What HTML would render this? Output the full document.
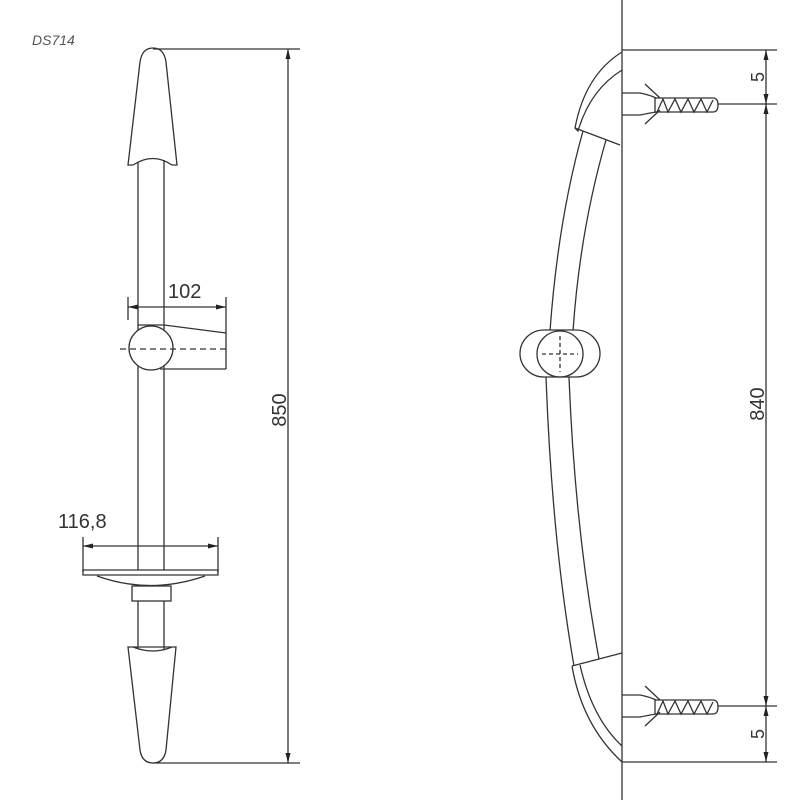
<!DOCTYPE html>
<html><head><meta charset="utf-8"><style>html,body{margin:0;padding:0;background:#fff}</style></head>
<body>
<svg width="800" height="800" xmlns="http://www.w3.org/2000/svg" font-family="Liberation Sans, sans-serif">
<defs>
<marker id="a" markerWidth="10" markerHeight="8" refX="10" refY="4" orient="auto-start-reverse" markerUnits="userSpaceOnUse"><path d="M0,1.5 L10,4 L0,6.5 Z" fill="#222"/></marker>
</defs>
<text x="32" y="45" font-size="14" font-style="italic" fill="#555">DS714</text>
<g fill="none" stroke="#333" stroke-width="1.3">
<!-- left view top cap -->
<path d="M128,165 L140,62 Q142,48 153,48 Q164,48 166,62 L177,165 L172,165 Q153,152 133,165 Z" fill="#fff"/>
<line x1="138" y1="162" x2="138" y2="570"/><line x1="164" y1="160" x2="164" y2="570"/>
<line x1="153" y1="49" x2="300" y2="49"/>
<line x1="288" y1="49" x2="288" y2="763" marker-start="url(#a)" marker-end="url(#a)"/>
<line x1="153" y1="763" x2="300" y2="763"/>
<!-- 102 dim -->
<line x1="128" y1="297" x2="128" y2="320"/><line x1="226" y1="297" x2="226" y2="369"/>
<line x1="128" y1="307" x2="226" y2="307" marker-start="url(#a)" marker-end="url(#a)"/>
<path d="M138,325 L164,325 L226,333 M160,369 L226,369"/>
<circle cx="151" cy="348" r="22" fill="#fff"/>
<line x1="120" y1="349" x2="226" y2="349" stroke-dasharray="6,4"/>
<!-- 116,8 dim -->
<line x1="83" y1="537" x2="83" y2="572"/><line x1="218" y1="537" x2="218" y2="572"/>
<line x1="83" y1="546" x2="218" y2="546" marker-start="url(#a)" marker-end="url(#a)"/>
<path d="M83,570 L218,570 L218,575 L83,575 Z"/>
<path d="M97,576 Q150,595 205,576"/>
<rect x="132" y="586" width="39" height="15"/>
<line x1="138" y1="601" x2="138" y2="650"/><line x1="164" y1="601" x2="164" y2="650"/>
<path d="M128,647 L176,647 L166,750 Q164,763 153,763 Q142,763 140,750 Z M133,647 Q153,655 172,647" fill="#fff"/>
<!-- right view -->
<line x1="622" y1="0" x2="622" y2="800"/>
<line x1="622" y1="50" x2="777" y2="50"/>
<line x1="622" y1="762" x2="777" y2="762"/>
<line x1="766" y1="50" x2="766" y2="104" marker-start="url(#a)" marker-end="url(#a)"/>
<line x1="766" y1="104" x2="766" y2="706" marker-start="url(#a)" marker-end="url(#a)"/>
<line x1="766" y1="706" x2="766" y2="762" marker-start="url(#a)" marker-end="url(#a)"/>
<line x1="718" y1="104" x2="777" y2="104"/><line x1="718" y1="706" x2="777" y2="706"/>
<!-- screws -->
<g id="s">
<path d="M622,93 L640,93 Q650,95 656,98 M622,115 L640,115 Q650,113 656,112"/>
<path d="M645,84 L660,98 M645,124 L660,110"/>
<path d="M655,98 L713,98 Q718,98 718,105 Q718,112 713,112 L655,112 Z"/>
<path d="M657,112 L663,99 L668,112 L675,99 L681,112 L688,99 L694,112 L701,99 L707,112 L713,100"/>
</g>
<use href="#s" transform="translate(0,602)"/>
<!-- top cap -->
<path d="M622,52 Q585,75 575,128 L578,131 Q590,90 622,70"/>
<path d="M575,128 L620,145"/>
<!-- rod -->
<path d="M583,131 Q558,220 550,331"/><path d="M606,140 Q580,230 573,331"/>
<rect x="520" y="330" width="80" height="47" rx="24" fill="#fff"/>
<circle cx="560" cy="354" r="23"/>
<path d="M560,336 L560,372 M542,354 L578,354" stroke-dasharray="4,3"/>
<path d="M546,377 Q552,540 574,666"/><path d="M569,377 Q575,530 599,659"/>
<path d="M572,666 L622,653"/>
<path d="M572,666 Q582,725 622,762 M580,665 Q592,718 622,746"/>
</g>
<g fill="#333" font-size="20">
<text x="168" y="298">102</text>
<text x="58" y="528">116,8</text>
<text transform="translate(286,410) rotate(-90)" text-anchor="middle">850</text>
<text transform="translate(764,404) rotate(-90)" text-anchor="middle">840</text>
<text transform="translate(764,77) rotate(-90)" text-anchor="middle" font-size="18">5</text>
<text transform="translate(764,734) rotate(-90)" text-anchor="middle" font-size="18">5</text>
</g>
</svg>
</body></html>
